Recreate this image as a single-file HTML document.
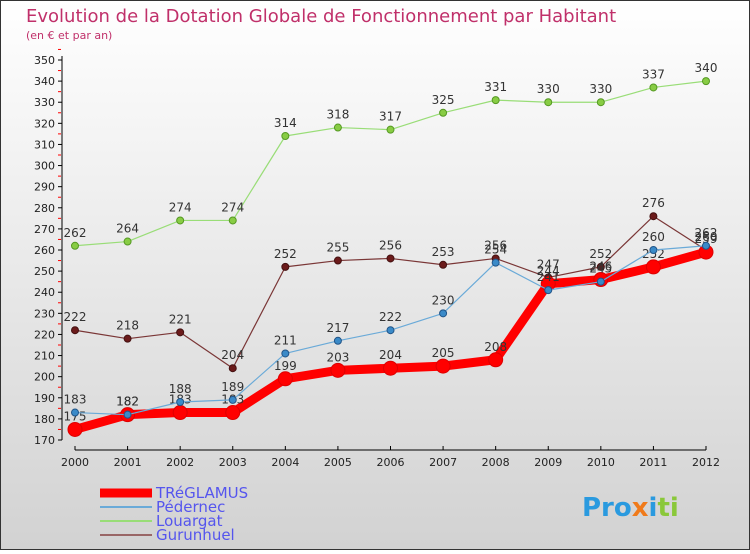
<!DOCTYPE html>
<html><head><meta charset="utf-8"><style>
body{margin:0;}
#c{width:750px;height:550px;position:relative;font-family:"DejaVu Sans","Liberation Sans",sans-serif;}
</style></head><body>
<div id="c">
<svg id="s" width="750" height="550" xmlns="http://www.w3.org/2000/svg">
<defs><linearGradient id="bg" x1="0" y1="0" x2="0" y2="1"><stop offset="0" stop-color="#ffffff"/><stop offset="1" stop-color="#d2d2d2"/></linearGradient></defs>
<rect x="0.5" y="0.5" width="749" height="549" fill="url(#bg)" stroke="#333"/>
<text x="26" y="22" font-size="18" fill="#c0306a">Evolution de la Dotation Globale de Fonctionnement par Habitant</text>
<text x="26" y="39" font-size="11" fill="#c0306a">(en € et par an)</text>
<g id="g"></g>
</svg>
</div>
<script>
const years=[2000,2001,2002,2003,2004,2005,2006,2007,2008,2009,2010,2011,2012];
const yTicks=[170,180,190,200,210,220,230,240,250,260,270,280,290,300,310,320,330,340,350];
const treglamus=[175,182,183,183,199,203,204,205,208,244,246,252,259];
const pedernec=[183,182,188,189,211,217,222,230,254,241,245,260,262];
const louargat=[262,264,274,274,314,318,317,325,331,330,330,337,340];
const gurunhuel=[222,218,221,204,252,255,256,253,256,247,252,276,260];
const NS="http://www.w3.org/2000/svg";
const g=document.getElementById('g');
function X(i){return 75+i*(706-75)/(years.length-1);}
function Y(v){return 440-(v-170)*(380/180);}
function el(t,a,p){const e=document.createElementNS(NS,t);for(const k in a)e.setAttribute(k,a[k]);(p||g).appendChild(e);return e;}
// axes
let ax=el('line',{x1:62,y1:Y(350)-4,x2:62,y2:Y(170),stroke:'#000','stroke-width':1});


yTicks.forEach(v=>{
 el('line',{x1:58,y1:Y(v),x2:62,y2:Y(v),stroke:'#000'});
 el('line',{x1:58,y1:Y(v+5),x2:61,y2:Y(v+5),stroke:'#f00'});
 const t=el('text',{x:55,y:Y(v)+4,'font-size':11,'text-anchor':'end',fill:'#222'});
 t.textContent=v;
 
 
});
let xa=el('line',{x1:75,y1:450,x2:706,y2:450,stroke:'#000'});


years.forEach((y,i)=>{
 el('line',{x1:X(i),y1:446,x2:X(i),y2:450,stroke:'#000'});
 const t=el('text',{x:X(i),y:466,'font-size':11,'text-anchor':'middle',fill:'#222'});
 t.textContent=y;
 
 
});
function series(name,data,color,w,r,fill,stroke){
 const grp=el('g',{});
 
 
 const pl=el('polyline',{points:data.map((v,i)=>X(i)+','+Y(v)).join(' '),fill:'none',stroke:color,'stroke-width':w,'stroke-linejoin':'round'},grp);
 
 
 data.forEach((v,i)=>{
  const c=el('circle',{cx:X(i),cy:Y(v),r:r,fill:fill,stroke:stroke,'stroke-width':1},grp);
  
  
  const t=el('text',{x:X(i),y:Y(v)-9,'font-size':12,'text-anchor':'middle',fill:'#333'},grp);
  t.textContent=v;
  
  
 });
}
series('louargat',louargat,'#99dd77',1.2,3.5,'#88cc44','#559922');
series('gurunhuel',gurunhuel,'#7a3636',1.2,3.5,'#6b1a1a','#441111');
series('treglamus',treglamus,'#ff0000',9,7,'#ff0000','#dd0000');
series('pedernec',pedernec,'#6aaad8',1.2,3.5,'#3a8ac8','#225588');
// legend
const leg=[['TRéGLAMUS','#ff0000',9,497],['Pédernec','#6aaad8',2,511],['Louargat','#99dd77',2,525],['Gurunhuel','#996666',2,539]];
leg.forEach(l=>{
 const lg=el('g',{});
 
 
 el('line',{x1:100,y1:l[3]-4,x2:152,y2:l[3]-4,stroke:l[1],'stroke-width':l[2]},lg);
 const t=el('text',{x:156,y:l[3]+1,'font-size':15,fill:'#5555ee'},lg);
 t.textContent=l[0];
});
// logo
const logo=el('text',{x:582,y:516,'font-size':26,'font-weight':'bold',fill:'#f39a1a'});


logo.innerHTML='<tspan fill="#2a9adf">Pro</tspan><tspan fill="#f07a1a">x</tspan><tspan fill="#2a9adf">i</tspan><tspan fill="#8ac83a">ti</tspan>';
</script>
</body></html>
